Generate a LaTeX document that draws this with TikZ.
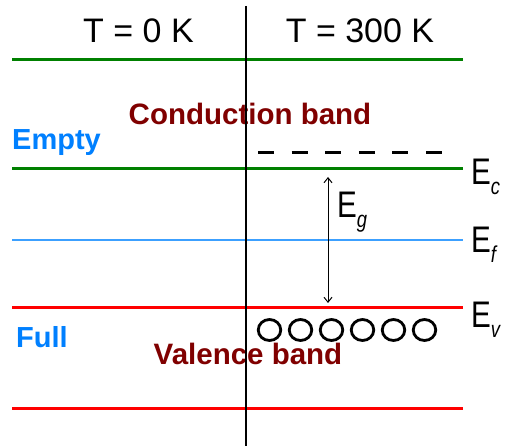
\documentclass[tikz,border=0pt]{standalone}
\usepackage{fontspec}
\setmainfont{Liberation Sans}
\usetikzlibrary{arrows.meta,shapes.geometric}
\definecolor{bgreen}{RGB}{0,128,0}
\definecolor{bred}{RGB}{255,0,0}
\definecolor{fblue}{RGB}{60,160,255}
\definecolor{tblue}{RGB}{0,128,255}
\definecolor{dred}{RGB}{128,0,0}
\tikzset{
  lvl/.style={line width=3pt},
  lbl/.style={inner sep=0pt, anchor=base west},
  hdr/.style={inner sep=0pt, anchor=base, font=\fontsize{34}{40}\selectfont},
  bandtxt/.style={inner sep=0pt, anchor=base, text=dred, font=\bfseries\fontsize{29.5}{34}\selectfont},
  sidetxt/.style={inner sep=0pt, anchor=base, text=tblue, font=\bfseries\fontsize{29}{34}\selectfont},
  hole/.style={ellipse, draw, line width=2.8pt, minimum width=22.5pt, minimum height=21pt, inner sep=0pt},
  elbl/.style={inner sep=0pt, anchor=base west, font=\fontsize{37}{40}\selectfont},
}
\newcommand{\Elab}[1]{\scalebox{0.8}[1]{E}\raisebox{-10pt}{\fontsize{23}{24}\selectfont\itshape\scalebox{0.8}[1]{#1}}}
\begin{document}
\begin{tikzpicture}[x=1pt,y=-1pt]
\useasboundingbox (0,0) rectangle (509,446);
\fill[white] (0,0) rectangle (509,446);
% level end points
\foreach \n/\y in {top/60, ec/169, ef/240, ev/308, bot/409}{
  \coordinate (\n L) at (12,\y);
  \coordinate (\n R) at (463,\y);
}
\coordinate (vT) at (246,6);
\coordinate (vB) at (246,446);
\draw[lvl, bgreen] (topL) -- (topR);
\draw[lvl, bgreen] (ecL) -- (ecR);
\draw[line width=1.5pt, fblue] (efL) -- (efR);
\draw[lvl, bred] (evL) -- (evR);
\draw[lvl, bred] (botL) -- (botR);
% dashed donor level
\coordinate (dL) at (258,153);
\coordinate (dR) at (442,153);
\draw[line width=3pt, dash pattern=on 16pt off 17.6pt] (dL) -- (dR);
% headers
\node[hdr] (h0) at (138.5,43) {T = 0 K};
\node[hdr] (h300) at (360,43) {T = 300 K};
% band texts
\node[bandtxt] (cb) at (250,125) {Conduction band};
\node[bandtxt] (vb) at (248,365) {Valence band};
\node[sidetxt] (empty) at (56.5,150) {Empty};
\node[sidetxt] (full) at (42,348) {Full};
% vertical divider
\draw[line width=1.5pt] (vT) -- (vB);
% holes
\foreach \i in {0,...,5}{
  \node[hole] (h\i) at (269.5+31*\i,330) {};
}
% gap arrow
\coordinate (aT) at (328,177);
\coordinate (aB) at (328,303);
\draw[line width=1pt, {Straight Barb[length=5pt,width=8pt]}-{Straight Barb[length=5pt,width=8pt]}] (aT) -- (aB);
\node[elbl] (eg) at (337,218) {\Elab{g}};
% energy labels
\node[elbl] (ecl) at (471,185) {\Elab{c}};
\node[elbl] (efl) at (471,253) {\Elab{f}};
\node[elbl] (evl) at (471,328) {\Elab{v}};
\end{tikzpicture}
\end{document}
